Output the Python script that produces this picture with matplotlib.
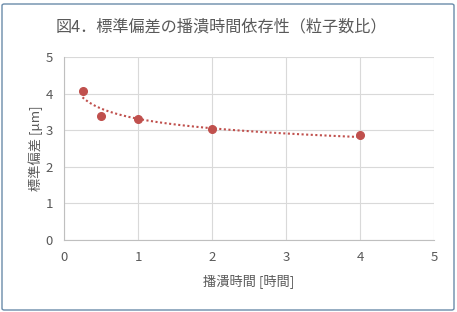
import numpy as np
import matplotlib.pyplot as plt
from matplotlib.patches import FancyBboxPatch

plt.rcParams['font.family'] = ['Noto Sans CJK JP', 'DejaVu Sans']

# データ
hours = [0.25, 0.5, 1, 2, 4]
sigma = [4.08, 3.40, 3.30, 3.02, 2.88]
x_ticks = [0, 1, 2, 3, 4, 5]
y_ticks = [0, 1, 2, 3, 4, 5]

gray = '#595959'
red = '#C0504D'

fig = plt.figure(figsize=(4.57, 3.12), dpi=100)
ax = fig.add_axes([64 / 457, 1 - 240 / 312, 370 / 457, 183 / 312])

# 累乗近似の近似曲線
b, a = np.polyfit(np.log(hours), np.log(sigma), 1)
xt = np.linspace(hours[0], hours[-1], 200)
ax.plot(xt, np.exp(a) * xt ** b, color=red, lw=1.5, ls=(0, (1, 1.2)), zorder=2)
ax.plot(hours, sigma, 'o', color=red, ms=5.5, zorder=3)

ax.set_xlim(0, 5)
ax.set_ylim(0, 5)
ax.set_xticks(x_ticks)
ax.set_yticks(y_ticks)
ax.grid(True, color='#D9D9D9', lw=0.8)
ax.set_axisbelow(True)
for s in ['top', 'right']:
    ax.spines[s].set_visible(False)
for s in ['left', 'bottom']:
    ax.spines[s].set_color('#BFBFBF')
    ax.spines[s].set_linewidth(0.8)
ax.tick_params(length=0, labelsize=9.5, labelcolor=gray, pad=8)

ax.set_xlabel('播潰時間 [時間]', fontsize=9.5, color=gray, labelpad=8)
ax.set_ylabel('標準偏差 [μm]', fontsize=9.5, color=gray, labelpad=2)

fig.text(0.5 * (62 + 380) / 457, 1 - 27 / 312, '図4．標準偏差の播潰時間依存性（粒子数比）',
         ha='center', va='center', fontsize=11.6, color=gray)

border = FancyBboxPatch((2 / 457, 2 / 312), 452 / 457, 306 / 312,
                        boxstyle='round,pad=0,rounding_size=0.005',
                        transform=fig.transFigure, fill=False,
                        edgecolor='#6A8BAA', lw=1.0)
fig.patches.append(border)

fig.savefig('out.png', dpi=100)
